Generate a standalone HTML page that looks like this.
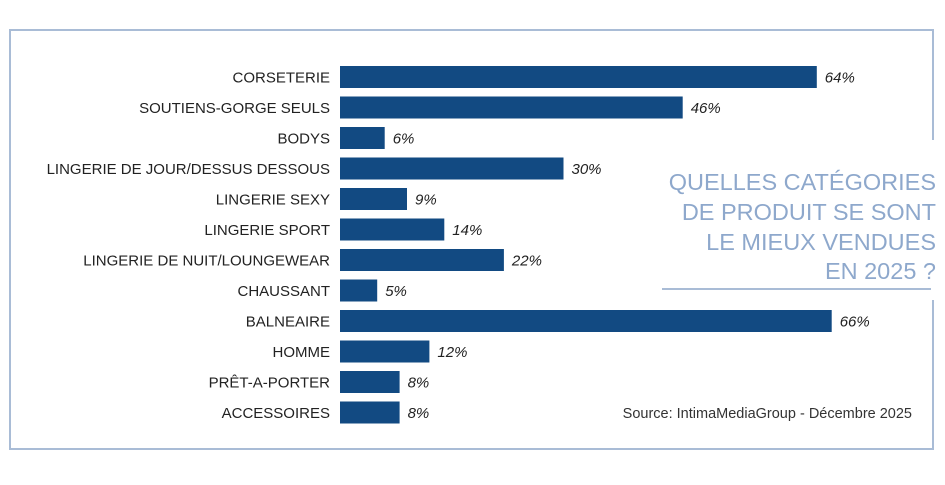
<!DOCTYPE html>
<html><head><meta charset="utf-8"><style>
body{margin:0;background:#fff;}
svg text{font-family:"Liberation Sans",sans-serif;}
</style></head><body>
<svg width="945" height="480" xmlns="http://www.w3.org/2000/svg">
<g stroke="#a9bcd6" stroke-width="2" fill="none">
<polyline points="933,140 933,30 10,30 10,449 933,449 933,300"/>
<line x1="662" y1="289" x2="931" y2="289"/>
</g>
<g font-size="23.5" fill="#8ea8cc" text-anchor="end">
<text x="936" y="190">QUELLES CATÉGORIES</text>
<text x="936" y="220">DE PRODUIT SE SONT</text>
<text x="936" y="250">LE MIEUX VENDUES</text>
<text x="936" y="279">EN 2025 ?</text>
</g>
<text x="912" y="418" font-size="14.5" fill="#333" text-anchor="end">Source: IntimaMediaGroup - Décembre 2025</text>
<g font-size="15" fill="#222" text-anchor="end">
<text x="330" y="82.5">CORSETERIE</text>
<text x="330" y="113">SOUTIENS-GORGE SEULS</text>
<text x="330" y="143.5">BODYS</text>
<text x="330" y="174">LINGERIE DE JOUR/DESSUS DESSOUS</text>
<text x="330" y="204.5">LINGERIE SEXY</text>
<text x="330" y="235">LINGERIE SPORT</text>
<text x="330" y="265.5">LINGERIE DE NUIT/LOUNGEWEAR</text>
<text x="330" y="296">CHAUSSANT</text>
<text x="330" y="326.5">BALNEAIRE</text>
<text x="330" y="357">HOMME</text>
<text x="330" y="387.5">PRÊT-A-PORTER</text>
<text x="330" y="418">ACCESSOIRES</text>
</g>
<g fill="#124a82">
<rect x="340" y="66" width="476.8" height="22"/>
<rect x="340" y="96.5" width="342.7" height="22"/>
<rect x="340" y="127" width="44.7" height="22"/>
<rect x="340" y="157.5" width="223.5" height="22"/>
<rect x="340" y="188" width="67" height="22"/>
<rect x="340" y="218.5" width="104.3" height="22"/>
<rect x="340" y="249" width="163.9" height="22"/>
<rect x="340" y="279.5" width="37.2" height="22"/>
<rect x="340" y="310" width="491.7" height="22"/>
<rect x="340" y="340.5" width="89.4" height="22"/>
<rect x="340" y="371" width="59.6" height="22"/>
<rect x="340" y="401.5" width="59.6" height="22"/>
</g>
<g font-size="15" font-style="italic" fill="#222">
<text x="824.8" y="82.5">64%</text>
<text x="690.7" y="113">46%</text>
<text x="392.7" y="143.5">6%</text>
<text x="571.5" y="174">30%</text>
<text x="415" y="204.5">9%</text>
<text x="452.3" y="235">14%</text>
<text x="511.9" y="265.5">22%</text>
<text x="385.2" y="296">5%</text>
<text x="839.7" y="326.5">66%</text>
<text x="437.4" y="357">12%</text>
<text x="407.6" y="387.5">8%</text>
<text x="407.6" y="418">8%</text>
</g>
</svg>
</body></html>
